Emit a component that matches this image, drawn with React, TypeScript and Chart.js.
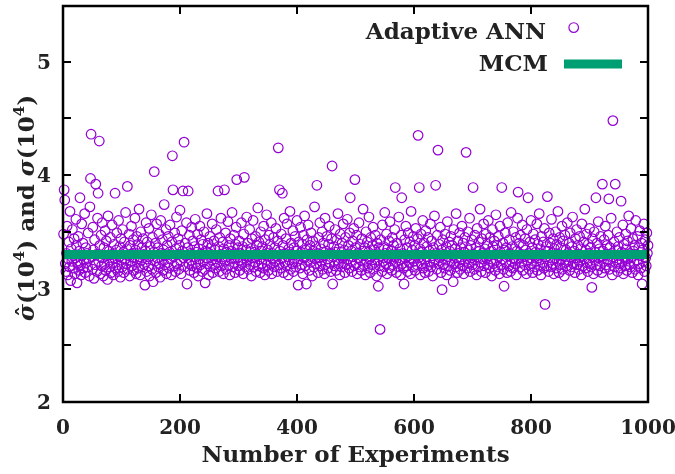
import React, { useEffect, useRef } from "react";
import { Chart, registerables } from "chart.js";

Chart.register(...registerables);

// ---- data -----------------------------------------------------------------
const annValues: number[] = [
  3.48, 3.87, 3.78, 3.22, 3.15, 3.31, 3.55, 3.12, 3.26, 3.41, 3.19, 3.68, 3.07, 3.35, 3.24, 3.52, 3.18, 3.29, 3.44, 3.13,
  3.27, 3.61, 3.38, 3.05, 3.22, 3.46, 3.16, 3.33, 3.80, 3.21, 3.12, 3.57, 3.29, 3.40, 3.18, 3.25, 3.66, 3.14, 3.36, 3.23,
  3.31, 3.19, 3.49, 3.26, 3.11, 3.72, 3.97, 4.36, 3.28, 3.17, 3.54, 3.34, 3.09, 3.43, 3.21, 3.92, 3.30, 3.15, 3.62, 3.84,
  3.24, 4.30, 3.38, 3.13, 3.47, 3.20, 3.58, 3.27, 3.11, 3.36, 3.22, 3.51, 3.16, 3.42, 3.29, 3.08, 3.64, 3.25, 3.33, 3.19,
  3.45, 3.14, 3.30, 3.56, 3.23, 3.12, 3.39, 3.27, 3.84, 3.18, 3.34, 3.49, 3.21, 3.15, 3.60, 3.28, 3.37, 3.10, 3.44, 3.25,
  3.19, 3.52, 3.32, 3.14, 3.41, 3.26, 3.67, 3.22, 3.35, 3.90, 3.17, 3.29, 3.48, 3.11, 3.38, 3.24, 3.55, 3.20, 3.31, 3.43,
  3.16, 3.27, 3.62, 3.34, 3.13, 3.46, 3.23, 3.39, 3.18, 3.70, 3.28, 3.12, 3.50, 3.25, 3.36, 3.19, 3.44, 3.30, 3.21, 3.03,
  3.33, 3.58, 3.15, 3.41, 3.26, 3.20, 3.53, 3.11, 3.37, 3.29, 3.65, 3.17, 3.45, 3.06, 3.32, 4.03, 3.24, 3.40, 3.14, 3.57,
  3.27, 3.36, 3.19, 3.48, 3.22, 3.10, 3.60, 3.31, 3.25, 3.43, 3.16, 3.34, 3.74, 3.21, 3.29, 3.52, 3.13, 3.38, 3.23, 3.46,
  3.18, 3.32, 3.56, 3.26, 3.12, 3.41, 4.17, 3.87, 3.28, 3.20, 3.49, 3.15, 3.35, 3.63, 3.22, 3.30, 3.44, 3.17, 3.38, 3.69,
  3.24, 3.13, 3.51, 3.33, 3.86, 3.27, 4.29, 3.19, 3.40, 3.29, 3.58, 3.04, 3.36, 3.86, 3.22, 3.47, 3.16, 3.31, 3.25, 3.54,
  3.20, 3.42, 3.28, 3.14, 3.37, 3.61, 3.23, 3.32, 3.18, 3.48, 3.11, 3.35, 3.26, 3.55, 3.21, 3.43, 3.30, 3.15, 3.39, 3.24,
  3.50, 3.17, 3.05, 3.33, 3.27, 3.66, 3.22, 3.40, 3.12, 3.31, 3.46, 3.19, 3.36, 3.25, 3.57, 3.14, 3.29, 3.42, 3.21, 3.34,
  3.18, 3.52, 3.28, 3.23, 3.86, 3.37, 3.15, 3.45, 3.30, 3.62, 3.20, 3.26, 3.41, 3.13, 3.35, 3.87, 3.24, 3.49, 3.17, 3.32,
  3.28, 3.59, 3.21, 3.38, 3.12, 3.44, 3.26, 3.33, 3.67, 3.19, 3.30, 3.47, 3.23, 3.14, 3.39, 3.54, 3.96, 3.27, 3.36, 3.20,
  3.42, 3.16, 3.31, 3.25, 3.58, 3.22, 3.37, 3.13, 3.48, 3.98, 3.29, 3.19, 3.34, 3.63, 3.24, 3.40, 3.17, 3.28, 3.52, 3.21,
  3.35, 3.11, 3.44, 3.27, 3.60, 3.19, 3.32, 3.23, 3.46, 3.15, 3.38, 3.29, 3.71, 3.20, 3.41, 3.26, 3.14, 3.50, 3.33, 3.22,
  3.37, 3.18, 3.55, 3.30, 3.12, 3.43, 3.25, 3.65, 3.21, 3.34, 3.16, 3.47, 3.28, 3.39, 3.22, 3.58, 3.13, 3.31, 3.26, 3.45,
  3.19, 3.36, 3.24, 3.53, 3.29, 3.15, 3.42, 4.24, 3.21, 3.87, 3.33, 3.18, 3.48, 3.27, 3.84, 3.38, 3.14, 3.62, 3.23, 3.31,
  3.44, 3.20, 3.57, 3.28, 3.12, 3.35, 3.25, 3.68, 3.17, 3.40, 3.30, 3.22, 3.51, 3.15, 3.36, 3.26, 3.46, 3.19, 3.33, 3.60,
  3.24, 3.03, 3.41, 3.29, 3.18, 3.54, 3.32, 3.21, 3.39, 3.13, 3.47, 3.27, 3.64, 3.20, 3.34, 3.04, 3.43, 3.25, 3.56, 3.30,
  3.16, 3.38, 3.23, 3.49, 3.28, 3.11, 3.42, 3.33, 3.19, 3.72, 3.26, 3.37, 3.22, 3.91, 3.31, 3.14, 3.45, 3.27, 3.58, 3.20,
  3.35, 3.24, 3.50, 3.17, 3.40, 3.29, 3.13, 3.62, 3.21, 3.33, 3.46, 3.26, 3.18, 3.39, 3.55, 3.23, 3.31, 3.15, 3.44, 4.08,
  3.04, 3.28, 3.37, 3.20, 3.52, 3.32, 3.16, 3.43, 3.25, 3.66, 3.22, 3.35, 3.12, 3.48, 3.29, 3.19, 3.40, 3.27, 3.57, 3.23,
  3.34, 3.14, 3.45, 3.30, 3.21, 3.61, 3.26, 3.38, 3.18, 3.49, 3.80, 3.24, 3.33, 3.15, 3.42, 3.28, 3.53, 3.20, 3.96, 3.36,
  3.22, 3.47, 3.13, 3.31, 3.27, 3.58, 3.19, 3.39, 3.25, 3.16, 3.44, 3.33, 3.70, 3.21, 3.29, 3.36, 3.12, 3.50, 3.24, 3.41,
  3.18, 3.32, 3.63, 3.26, 3.14, 3.45, 3.28, 3.21, 3.38, 3.54, 3.17, 3.34, 3.23, 3.47, 3.30, 3.11, 3.40, 3.25, 3.02, 3.36,
  3.20, 2.64, 3.43, 3.29, 3.15, 3.56, 3.24, 3.37, 3.19, 3.67, 3.31, 3.22, 3.48, 3.13, 3.35, 3.27, 3.42, 3.18, 3.59, 3.26,
  3.33, 3.16, 3.45, 3.21, 3.38, 3.28, 3.52, 3.89, 3.24, 3.14, 3.40, 3.30, 3.19, 3.63, 3.25, 3.35, 3.12, 3.47, 3.80, 3.22,
  3.31, 3.18, 3.04, 3.43, 3.27, 3.55, 3.20, 3.36, 3.15, 3.49, 3.29, 3.23, 3.41, 3.13, 3.68, 3.26, 3.34, 3.19, 3.46, 3.24,
  3.38, 3.16, 3.53, 3.30, 3.21, 3.44, 4.35, 3.27, 3.89, 3.35, 3.12, 3.48, 3.22, 3.32, 3.60, 3.18, 3.40, 3.25, 3.14, 3.51,
  3.28, 3.37, 3.20, 3.45, 3.15, 3.33, 3.24, 3.57, 3.19, 3.42, 3.29, 3.11, 3.36, 3.23, 3.64, 3.26, 3.91, 3.31, 3.17, 3.47,
  4.22, 3.22, 3.39, 3.27, 3.54, 3.14, 3.34, 2.99, 3.43, 3.21, 3.30, 3.18, 3.48, 3.25, 3.37, 3.12, 3.59, 3.28, 3.20, 3.41,
  3.33, 3.16, 3.46, 3.24, 3.38, 3.29, 3.06, 3.52, 3.22, 3.35, 3.19, 3.66, 3.27, 3.14, 3.42, 3.31, 3.23, 3.49, 3.17, 3.36,
  3.26, 3.55, 3.20, 3.40, 3.13, 3.32, 3.45, 3.24, 4.20, 3.29, 3.18, 3.50, 3.34, 3.22, 3.62, 3.15, 3.38, 3.27, 3.43, 3.21,
  3.89, 3.30, 3.17, 3.47, 3.25, 3.36, 3.12, 3.53, 3.28, 3.19, 3.41, 3.33, 3.70, 3.23, 3.15, 3.44, 3.31, 3.26, 3.57, 3.20,
  3.35, 3.14, 3.48, 3.27, 3.39, 3.21, 3.60, 3.29, 3.18, 3.45, 3.24, 3.33, 3.11, 3.52, 3.37, 3.22, 3.42, 3.30, 3.16, 3.65,
  3.25, 3.38, 3.19, 3.46, 3.28, 3.13, 3.55, 3.32, 3.21, 3.89, 3.26, 3.40, 3.17, 3.02, 3.34, 3.49, 3.23, 3.36, 3.14, 3.58,
  3.29, 3.20, 3.43, 3.31, 3.15, 3.67, 3.24, 3.37, 3.18, 3.50, 3.27, 3.35, 3.22, 3.45, 3.12, 3.33, 3.62, 3.85, 3.26, 3.40,
  3.19, 3.47, 3.30, 3.23, 3.56, 3.16, 3.38, 3.28, 3.21, 3.44, 3.34, 3.13, 3.52, 3.25, 3.80, 3.31, 3.17, 3.41, 3.27, 3.60,
  3.22, 3.36, 3.14, 3.48, 3.29, 3.19, 3.43, 3.32, 3.24, 3.57, 3.16, 3.39, 3.27, 3.66, 3.21, 3.35, 3.12, 3.46, 3.30, 3.23,
  3.41, 3.18, 3.53, 2.86, 3.28, 3.37, 3.20, 3.81, 3.33, 3.15, 3.49, 3.25, 3.40, 3.19, 3.61, 3.31, 3.22, 3.44, 3.13, 3.35,
  3.27, 3.50, 3.18, 3.39, 3.24, 3.68, 3.30, 3.14, 3.45, 3.21, 3.36, 3.26, 3.55, 3.17, 3.42, 3.29, 3.11, 3.47, 3.23, 3.34,
  3.20, 3.58, 3.31, 3.25, 3.40, 3.16, 3.49, 3.28, 3.19, 3.37, 3.63, 3.22, 5.30, 3.33, 3.14, 3.44, 3.27, 3.52, 3.21, 3.38,
  3.30, 3.17, 3.46, 3.24, 3.35, 3.12, 3.57, 3.29, 3.20, 3.41, 3.26, 3.70, 3.18, 3.34, 3.48, 3.23, 3.15, 3.39, 3.31, 3.53,
  3.22, 3.36, 3.19, 3.01, 3.44, 3.28, 3.13, 3.50, 3.25, 3.32, 3.80, 3.21, 3.40, 3.16, 3.59, 3.27, 3.35, 3.20, 3.46, 3.29,
  3.14, 3.92, 3.33, 3.24, 3.43, 3.18, 3.55, 3.30, 3.21, 3.38, 3.26, 3.47, 3.79, 3.17, 3.36, 3.23, 3.62, 3.31, 3.12, 4.48,
  3.28, 3.41, 3.19, 3.92, 3.34, 3.25, 3.50, 3.15, 3.37, 3.22, 3.45, 3.29, 3.18, 3.77, 3.32, 3.24, 3.56, 3.13, 3.39, 3.27,
  3.20, 3.48, 3.35, 3.16, 3.42, 3.26, 3.64, 3.21, 3.31, 3.19, 3.53, 3.28, 3.14, 3.44, 3.33, 3.23, 3.38, 3.17, 3.60, 3.30,
  3.25, 3.46, 3.12, 3.36, 3.22, 3.51, 3.29, 3.18, 3.40, 3.04, 3.34, 3.24, 3.57, 3.15, 3.43, 3.27, 3.20, 3.49, 3.31, 3.38,
];
const mcmValue = 3.3;
const mcmRange: number[] = [0, 1000];
const xTickValues: number[] = [0, 200, 400, 600, 800, 1000];
const yTickValues: number[] = [2, 2.5, 3, 3.5, 4, 4.5, 5];
const yLabelValues: number[] = [2, 3, 4, 5];
const seriesLabels: string[] = ["Adaptive ANN", "MCM"];
const xTitle = "Number of Experiments";

const PURPLE = "#9400d3";
const GREEN = "#009e73";
const SERIF = '"DejaVu Serif", serif';

const framePlugin = {
  id: "gnuFrame",
  afterDatasetsDraw(chart: any) {
    const { ctx, chartArea: ca } = chart;
    const xs = chart.scales.x;
    const ys = chart.scales.y;
    ctx.save();
    ctx.strokeStyle = "#000";
    ctx.lineWidth = 2;
    ctx.lineCap = "butt";
    const tl = 8;
    ctx.beginPath();
    for (const v of yTickValues) {
      const py = Math.round(ys.getPixelForValue(v));
      ctx.moveTo(ca.left, py);
      ctx.lineTo(ca.left + tl, py);
      ctx.moveTo(ca.right, py);
      ctx.lineTo(ca.right - tl, py);
    }
    for (const v of xTickValues) {
      const px = Math.round(xs.getPixelForValue(v));
      ctx.moveTo(px, ca.bottom);
      ctx.lineTo(px, ca.bottom - tl);
      ctx.moveTo(px, ca.top);
      ctx.lineTo(px, ca.top + tl);
    }
    ctx.stroke();
    ctx.lineWidth = 2.5;
    ctx.strokeRect(ca.left, ca.top, ca.right - ca.left, ca.bottom - ca.top);

    ctx.fillStyle = "#222";
    // tick labels
    ctx.font = `bold 20px ${SERIF}`;
    ctx.textBaseline = "alphabetic";
    ctx.textAlign = "center";
    for (const v of xTickValues) {
      ctx.fillText(String(v), xs.getPixelForValue(v), ca.bottom + 32);
    }
    ctx.textAlign = "right";
    for (const v of yLabelValues) {
      ctx.fillText(String(v), ca.left - 12, ys.getPixelForValue(v) + 7);
    }

    // x title
    ctx.font = `bold 23px ${SERIF}`;
    ctx.textAlign = "center";
    ctx.fillText(xTitle, (ca.left + ca.right) / 2, ca.bottom + 60);

    // y title (rotated)
    const big = `bold 23px ${SERIF}`;
    const bigIt = `bold italic 23px ${SERIF}`;
    const sup = `bold 15px ${SERIF}`;
    const parts: { t: string; f: string; dy: number; hat?: boolean }[] = [
      { t: "σ", f: bigIt, dy: 0, hat: true },
      { t: "(10", f: big, dy: 0 },
      { t: "4", f: sup, dy: -10 },
      { t: ")", f: big, dy: 0 },
      { t: " and ", f: big, dy: 0 },
      { t: "σ", f: bigIt, dy: 0 },
      { t: "(10", f: big, dy: 0 },
      { t: "4", f: sup, dy: -10 },
      { t: ")", f: big, dy: 0 },
    ];
    let total = 0;
    for (const p of parts) {
      ctx.font = p.f;
      total += ctx.measureText(p.t).width;
    }
    ctx.save();
    ctx.translate(34, (ca.top + ca.bottom) / 2 + 4);
    ctx.rotate(-Math.PI / 2);
    ctx.textAlign = "left";
    let cx = -total / 2;
    for (const p of parts) {
      ctx.font = p.f;
      const w = ctx.measureText(p.t).width;
      ctx.fillText(p.t, cx, p.dy);
      if (p.hat) {
        ctx.font = `bold 20px ${SERIF}`;
        ctx.textAlign = "center";
        ctx.fillText("ˆ", cx + w / 2 + 1, -2);
        ctx.textAlign = "left";
      }
      cx += w;
    }
    ctx.restore();

    // legend
    ctx.font = `bold 23px ${SERIF}`;
    ctx.textAlign = "right";
    ctx.textBaseline = "middle";
    ctx.fillText(seriesLabels[0], 546, 33);
    ctx.fillText(seriesLabels[1], 548, 65);
    ctx.strokeStyle = GREEN;
    ctx.lineWidth = 9;
    ctx.beginPath();
    ctx.moveTo(564, 64);
    ctx.lineTo(622, 64);
    ctx.stroke();
    ctx.restore();
  },
};

export default function App() {
  const ref = useRef<HTMLCanvasElement | null>(null);
  useEffect(() => {
    if (!ref.current) return;
    const chart = new Chart(ref.current, {
      type: "scatter",
      data: {
        datasets: [
          {
            label: seriesLabels[1],
            type: "line",
            data: mcmRange.map((x) => ({ x, y: mcmValue })),
            borderColor: GREEN,
            borderWidth: 9,
            pointRadius: 0,
            order: 0,
            clip: 0,
          } as any,
          {
            label: seriesLabels[0],
            data: annValues.map((y, i) => ({ x: i + 1, y })),
            borderColor: PURPLE,
            backgroundColor: "rgba(0,0,0,0)",
            pointRadius: 4.8,
            borderWidth: 1.2,
            order: 1,
            clip: false,
          } as any,
        ],
      },
      options: {
        responsive: false,
        animation: false,
        events: [],
        layout: { padding: { left: 63, right: 27, top: 3, bottom: 72 } },
        plugins: { legend: { display: false }, tooltip: { enabled: false } },
        scales: {
          x: { type: "linear", min: 0, max: 1000, display: false },
          y: { type: "linear", min: 2, max: 5.49, display: false },
        },
      },
      plugins: [framePlugin],
    });
    return () => chart.destroy();
  }, []);
  return (
    <div style={{ position: "fixed", left: 0, top: 0, width: 675, height: 474, background: "#fff" }}>
      <canvas ref={ref} width={675} height={474} style={{ display: "block" }} />
    </div>
  );
}
